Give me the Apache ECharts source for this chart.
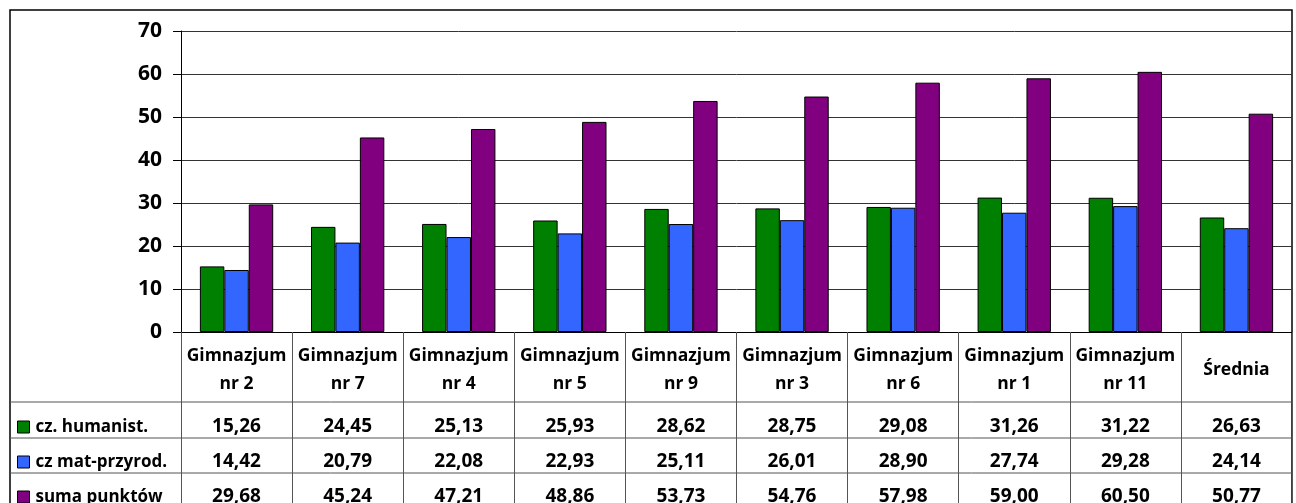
<!DOCTYPE html>
<html>
<head>
<meta charset="utf-8">
<script src="https://cdn.jsdelivr.net/npm/echarts@6/dist/echarts.min.js"></script>
<style>
html,body{margin:0;padding:0;background:#fff;}
#chart{width:1296px;height:503px;}
</style>
</head>
<body>
<div id="chart"></div>
<script>
var categories = ['Gimnazjum\nnr 2', 'Gimnazjum\nnr 7', 'Gimnazjum\nnr 4', 'Gimnazjum\nnr 5', 'Gimnazjum\nnr 9', 'Gimnazjum\nnr 3', 'Gimnazjum\nnr 6', 'Gimnazjum\nnr 1', 'Gimnazjum\nnr 11', 'Średnia'];
var seriesNames = ['cz. humanist.', 'cz mat-przyrod.', 'suma punktów'];
var humanist = [15.26, 24.45, 25.13, 25.93, 28.62, 28.75, 29.08, 31.26, 31.22, 26.63];
var matPrzyrod = [14.42, 20.79, 22.08, 22.93, 25.11, 26.01, 28.90, 27.74, 29.28, 24.14];
var sumaPunktow = [29.68, 45.24, 47.21, 48.86, 53.73, 54.76, 57.98, 59.00, 60.50, 50.77];
var yTicks = [0, 10, 20, 30, 40, 50, 60, 70];

var FONT = '"Open Sans", Lato, sans-serif';
var colors = ['#008000', '#3366FF', '#800080'];
var seriesData = [humanist, matPrzyrod, sumaPunktow];

function fmt(v) { return v.toFixed(2).replace('.', ','); }

var chart = echarts.init(document.getElementById('chart'));

var gridLeft = 181, gridRight = 4, gridTop = 31, gridBottom = 171;
var tableLeft = 10, tableRight = 1296 - gridRight;
var rowLines = [402, 438, 473];
var rowCenters = [427, 462, 497];

var xAxes = [{
  type: 'category',
  data: categories,
  position: 'bottom',
  axisLine: { show: true, lineStyle: { color: '#000', width: 1 } },
  axisTick: { show: true, interval: 0, length: gridBottom, lineStyle: { color: '#555', width: 1 } },
  axisLabel: {
    interval: 0, margin: 38, verticalAlign: 'middle', lineHeight: 28,
    fontFamily: FONT, fontWeight: 'bold', fontSize: 17.5, color: '#000'
  },
  splitLine: { show: false }
}];
seriesData.forEach(function (arr, k) {
  xAxes.push({
    type: 'category',
    data: categories,
    position: 'bottom',
    axisLine: { show: false },
    axisTick: { show: false },
    axisLabel: {
      interval: 0, margin: rowCenters[k] - 332, verticalAlign: 'middle',
      fontFamily: FONT, fontWeight: 'bold', fontSize: 19, color: '#000',
      formatter: function (val, idx) { return fmt(arr[idx]); }
    }
  });
});

var legends = seriesNames.map(function (name, k) {
  return {
    data: [name],
    left: 17,
    top: rowCenters[k] - 10,
    padding: 0,
    itemWidth: 12, itemHeight: 12, itemGap: 0,
    icon: 'rect',
    selectedMode: false,
    textStyle: { fontFamily: FONT, fontWeight: 'bold', fontSize: 17, color: '#000', lineHeight: 20, padding: [0, 0, 0, 1] },
    itemStyle: { borderColor: '#000', borderWidth: 1 }
  };
});

var graphics = [{
  type: 'rect', silent: true, z: -1,
  shape: { x: 10, y: 10, width: 1282, height: 510 },
  style: { fill: 'none', stroke: '#000', lineWidth: 1.5 }
}];
rowLines.forEach(function (y) {
  graphics.push({
    type: 'line', silent: true,
    shape: { x1: tableLeft, y1: y, x2: tableRight, y2: y },
    style: { stroke: '#555', lineWidth: 1 }
  });
});

chart.setOption({
  animation: false,
  backgroundColor: '#fff',
  grid: { left: gridLeft, right: gridRight, top: gridTop, bottom: gridBottom, containLabel: false, outerBoundsMode: 'none' },
  legend: legends,
  xAxis: xAxes,
  yAxis: {
    type: 'value',
    min: yTicks[0], max: yTicks[yTicks.length - 1], interval: 10,
    axisLine: { show: true, lineStyle: { color: '#000', width: 1 } },
    axisTick: { show: true, length: 8, lineStyle: { color: '#000' } },
    axisLabel: { margin: 19, fontFamily: FONT, fontWeight: 'bold', fontSize: 21, color: '#000' },
    splitLine: { show: true, lineStyle: { color: '#333', width: 1 } }
  },
  graphic: graphics,
  series: seriesData.map(function (arr, k) {
    return {
      name: seriesNames[k],
      type: 'bar',
      xAxisIndex: 0,
      data: arr,
      barGap: '0%',
      barCategoryGap: '34%',
      itemStyle: { color: colors[k], borderColor: '#000', borderWidth: 1 }
    };
  })
});
</script>
</body>
</html>
